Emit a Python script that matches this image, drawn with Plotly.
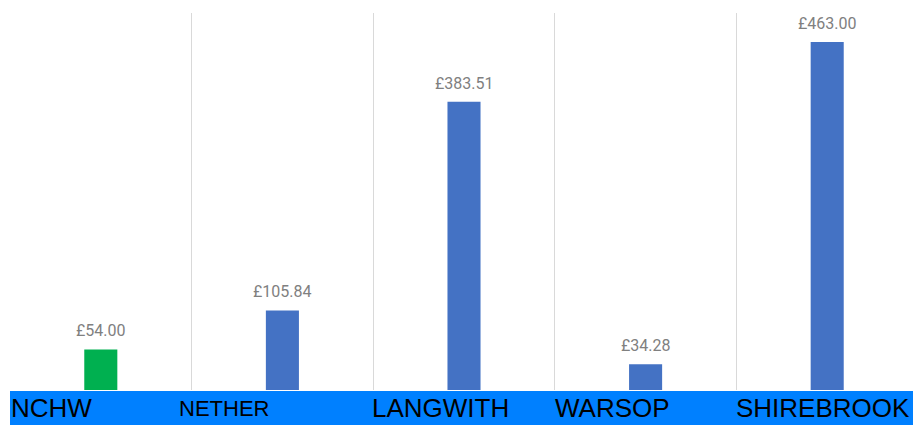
import plotly.graph_objects as go

categories = ["NCHW", "NETHER", "LANGWITH", "WARSOP", "SHIREBROOK"]
values = [54.00, 105.84, 383.51, 34.28, 463.00]
bar_colors = ["#00B050", "#4472C4", "#4472C4", "#4472C4", "#4472C4"]
label_sizes = [26, 22, 26, 26, 26]
label_shift = [-1, -15, -3, -2, -2]

W, H = 913, 425
ml, mr, mt, mb = 10, 0, 13, 35
plot_h = H - mt - mb
plot_w = W - ml - mr
cat_px = 181.6

xpos = [i + 0.5 for i in range(len(categories))]

fig = go.Figure()
fig.add_trace(go.Bar(
    x=xpos, y=values, width=0.182,
    marker=dict(color=bar_colors, line=dict(width=0)),
    hoverinfo="skip",
))

ann = []
for x, v in zip(xpos, values):
    ann.append(dict(x=x, y=v, xref="x", yref="y", text=f"£{v:,.2f}",
                    showarrow=False, yanchor="bottom", yshift=7,
                    font=dict(family="Roboto", size=16, color="#808080")))
for i, (c, s, sh) in enumerate(zip(categories, label_sizes, label_shift)):
    ann.append(dict(x=i, y=-(408 - (H - mb)) / plot_h, xref="x", yref="paper",
                    text=c, showarrow=False, xanchor="left", yanchor="middle",
                    xshift=sh, font=dict(family="Liberation Sans", size=s, color="#000000")))

fig.update_layout(
    width=W, height=H,
    margin=dict(l=ml, r=mr, t=mt, b=mb),
    paper_bgcolor="white", plot_bgcolor="white",
    showlegend=False,
    xaxis=dict(range=[0, plot_w / cat_px], tickvals=[0, 1, 2, 3, 4], showticklabels=False,
               showgrid=True, gridcolor="#d9d9d9", gridwidth=1, zeroline=False,
               showline=False, ticks=""),
    yaxis=dict(range=[0, 501.6], showgrid=False, zeroline=False,
               showticklabels=False, showline=False, ticks=""),
    annotations=ann,
    shapes=[dict(type="rect", xref="paper", yref="paper",
                 x0=0, x1=1.01, y0=-36 / plot_h,
                 y1=-1 / plot_h, fillcolor="#0080FF", line=dict(width=0), layer="below")],
)
fig.write_html("out.html", config={"displayModeBar": False},
               post_script="document.body.style.margin='0';document.body.style.overflow='hidden';")
